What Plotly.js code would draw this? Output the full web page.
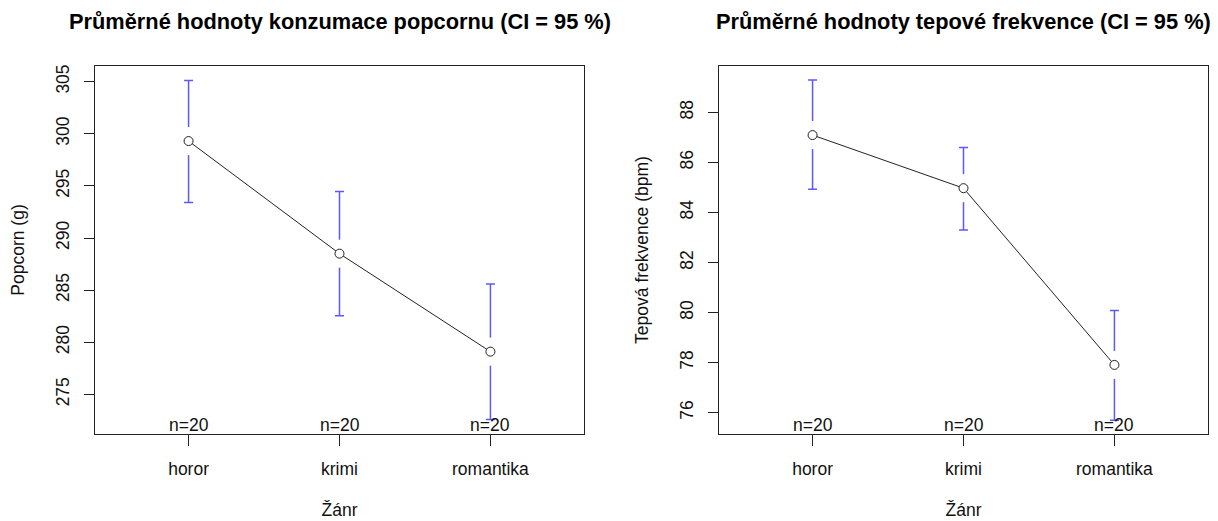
<!DOCTYPE html>
<html>
<head>
<meta charset="utf-8">
<script src="https://cdn.plot.ly/plotly-3.0.1.min.js"></script>
<style>html,body{margin:0;padding:0;background:#fff}#chart{width:1218px;height:521px}</style>
</head>
<body>
<div id="chart"></div>
<script>
// Data
var categories = ["horor", "krimi", "romantika"];
var nCounts = [20, 20, 20];

var popcornMean  = [299.3, 288.5, 279.1];
var popcornUpper = [305.1, 294.45, 285.6];
var popcornLower = [293.4, 282.55, 272.6];

var pulseMean  = [87.09, 84.97, 77.91];
var pulseUpper = [89.29, 86.59, 80.08];
var pulseLower = [84.93, 83.30, 75.70];

var titleLeft  = "Průměrné hodnoty konzumace popcornu (CI = 95 %)";
var titleRight = "Průměrné hodnoty tepové frekvence (CI = 95 %)";
var xTitle = "Žánr";
var yTitleLeft = "Popcorn (g)";
var yTitleRight = "Tepová frekvence (bpm)";

var FONT = "Liberation Sans, Arial, Helvetica, sans-serif";
var INK = "#222";
var BAR = "rgb(90,90,255)";
var FS = 17.5;

function panelTraces(mean, upper, lower, xa, ya) {
  var plus = upper.map(function (u, i) { return u - mean[i]; });
  var minus = lower.map(function (l, i) { return mean[i] - l; });
  return [
    { x: categories, y: mean, xaxis: xa, yaxis: ya, type: "scatter", mode: "lines",
      line: { color: INK, width: 1 }, hoverinfo: "skip", showlegend: false },
    { x: categories, y: mean, xaxis: xa, yaxis: ya, type: "scatter", mode: "markers",
      marker: { size: 1, color: "rgba(0,0,0,0)" },
      error_y: { type: "data", symmetric: false, array: plus, arrayminus: minus,
                 color: BAR, thickness: 1.5, width: 4.5 },
      hoverinfo: "skip", showlegend: false },
    { x: categories, y: mean, xaxis: xa, yaxis: ya, type: "scatter", mode: "markers",
      marker: { symbol: "line-ns", size: 20, color: "white", line: { color: "white", width: 3 } },
      hoverinfo: "skip", showlegend: false },
    { x: categories, y: mean, xaxis: xa, yaxis: ya, type: "scatter", mode: "markers",
      marker: { symbol: "circle", size: 9, color: "white", line: { color: INK, width: 1 } },
      showlegend: false }
  ];
}

var data = panelTraces(popcornMean, popcornUpper, popcornLower, "x", "y")
  .concat(panelTraces(pulseMean, pulseUpper, pulseLower, "x2", "y2"));

var W = 1218, H = 521;
var mL = 95, mR = 10, mT = 66, mB = 87;
var pw = W - mL - mR;
var boxW = 489;
var rightStart = 719 - mL;

function xAxis(domain, anchor) {
  return {
    domain: domain, anchor: anchor, type: "category", categoryorder: "array",
    categoryarray: categories, range: [-0.62, 2.62],
    showline: true, mirror: true, linecolor: INK, linewidth: 1,
    ticks: "outside", ticklen: 11, tickcolor: INK, tickwidth: 1,
    showgrid: false, zeroline: false, ticklabelstandoff: 8,
    tickfont: { family: FONT, size: FS, color: "#111" },
    title: { text: xTitle, font: { family: FONT, size: FS, color: "#111" }, standoff: 25 },
    fixedrange: true
  };
}
function yAxis(range, dtick, anchor, title) {
  return {
    domain: [0, 1], anchor: anchor, range: range, dtick: dtick, tick0: 0,
    showline: true, mirror: true, linecolor: INK, linewidth: 1,
    ticks: "outside", ticklen: 10, tickcolor: INK, tickwidth: 1,
    showgrid: false, zeroline: false, tickangle: -90, ticklabelstandoff: 8,
    tickfont: { family: FONT, size: FS, color: "#111" },
    title: { text: title, font: { family: FONT, size: FS, color: "#111" }, standoff: 23 },
    fixedrange: true
  };
}

var TFS = 21.8;
var annotations = [
  { text: "<b>" + titleLeft + "</b>", xref: "x domain", yref: "paper", x: 0.5, y: 1, yshift: 45,
    showarrow: false, font: { family: FONT, size: TFS, color: "#000" }, yanchor: "middle" },
  { text: "<b>" + titleRight + "</b>", xref: "x2 domain", yref: "paper", x: 0.5, y: 1, yshift: 45,
    showarrow: false, font: { family: FONT, size: TFS, color: "#000" }, yanchor: "middle" }
];
[["x", "y"], ["x2", "y2"]].forEach(function (p) {
  categories.forEach(function (c, i) {
    annotations.push({ text: "n=" + nCounts[i], xref: p[0], yref: p[1] + " domain", x: c, y: 0,
      yanchor: "bottom", yshift: -3, showarrow: false,
      font: { family: FONT, size: FS, color: "#111" } });
  });
});

var layout = {
  width: W, height: H,
  margin: { l: mL, r: mR, t: mT, b: mB, pad: 0 },
  paper_bgcolor: "#fff", plot_bgcolor: "#fff",
  showlegend: false,
  xaxis: xAxis([0, boxW / pw], "y"),
  yaxis: yAxis([271.2, 306.5], 5, "x", yTitleLeft),
  xaxis2: xAxis([rightStart / pw, 1], "y2"),
  yaxis2: yAxis([75.15, 89.85], 2, "x2", yTitleRight),
  annotations: annotations,
  font: { family: FONT }
};

Plotly.newPlot("chart", data, layout, { staticPlot: true, displayModeBar: false });
</script>
</body>
</html>
